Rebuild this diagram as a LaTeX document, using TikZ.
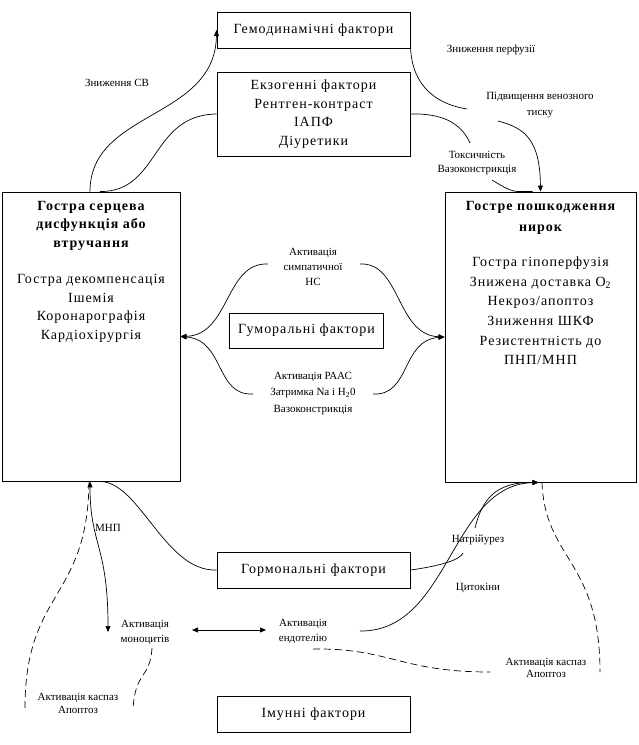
\documentclass[tikz,border=0pt]{standalone}
\usepackage{fontspec}
\setmainfont{Liberation Serif}
\newfontfamily\wide[LetterSpace=7]{Liberation Serif}
\usetikzlibrary{arrows.meta}
\begin{document}
\begin{tikzpicture}[x=1pt,y=-1pt,
  box/.style={draw, line width=0.9pt, inner sep=0pt},
  bigtxt/.style={font=\wide\fontsize{14}{18.7}\selectfont, align=center, inner sep=0pt},
  smalltxt/.style={font=\fontsize{11}{15}\selectfont, align=center, inner sep=0pt},
  conn/.style={line width=0.7pt},
  dsh/.style={line width=0.7pt, dash pattern=on 7pt off 4pt},
  arr/.style={-{Triangle[length=6pt,width=5pt]}},
  darr/.style={{Triangle[length=6pt,width=5pt]}-{Triangle[length=6pt,width=5pt]}}
]
\useasboundingbox (0,0) rectangle (638,745);

% boxes
\node[box, bigtxt, minimum width=193pt, minimum height=36pt] (hemo) at (313.5,30) {Гемодинамічні фактори};
\node[box, bigtxt, minimum width=193pt, minimum height=84pt] (exo) at (313.5,114) {Екзогенні фактори\\Рентген-контраст\\ІАПФ\\Діуретики};
\node[box, minimum width=178pt, minimum height=289pt] (leftbox) at (91,336.5) {};
\node[box, minimum width=191pt, minimum height=290pt] (rightbox) at (540.5,337) {};
\node[box, bigtxt, minimum width=154pt, minimum height=35pt] (humor) at (306.5,330.5) {Гуморальні фактори};
\node[box, bigtxt, minimum width=193pt, minimum height=36pt] (hormon) at (313.5,570) {Гормональні фактори};
\node[box, bigtxt, minimum width=193pt, minimum height=36pt] (immune) at (313.5,714) {Імунні фактори};

% texts inside big boxes
\node[bigtxt, font=\wide\bfseries\fontsize{14}{18.5}\selectfont] (lefttitle) at (91,225.5) {Гостра серцева\\дисфункція або\\втручання};
\node[bigtxt] (leftbody) at (91,308.5) {Гостра декомпенсація\\Ішемія\\Коронарографія\\Кардіохірургія};
\node[bigtxt, font=\wide\bfseries\fontsize{14}{21}\selectfont] (righttitle) at (540.5,217.5) {Гостре пошкодження\\нирок};
\node[bigtxt, font=\wide\fontsize{14}{19.6}\selectfont] (rightbody) at (540.5,311) {Гостра гіпоперфузія\\Знижена доставка O\textsubscript{2}\\Некроз/апоптоз\\Зниження ШКФ\\Резистентність до\\ПНП/МНП};

% small labels
\node[smalltxt] (sv) at (117,83) {Зниження СВ};
\node[smalltxt] (perf) at (491,50) {Зниження перфузії};
\node[smalltxt, font=\fontsize{11}{16}\selectfont] (ven) at (540,105) {Підвищення венозного\\тиску};
\node[smalltxt, font=\fontsize{11}{14}\selectfont] (tox) at (477,163) {Токсичність\\Вазоконстрикція};
\node[smalltxt] (symp) at (313,267) {Активація\\симпатичної\\НС};
\node[smalltxt, font=\fontsize{11}{16.5}\selectfont] (raas) at (313,393.5) {Активація РААС\\Затримка Na і H\textsubscript{2}0\\Вазоконстрикція};
\node[smalltxt] (mnp) at (108,528) {МНП};
\node[smalltxt] (mono) at (145,632) {Активація\\моноцитів};
\node[smalltxt] (endo) at (303,631) {Активація\\ендотелію};
\node[smalltxt, font=\fontsize{11}{13}\selectfont] (casp1) at (78,703.5) {Активація каспаз\\Апоптоз};
\node[smalltxt] (natr) at (478,540) {Натрійурез};
\node[smalltxt] (cyto) at (478,588) {Цитокіни};
\node[smalltxt, font=\fontsize{11}{12}\selectfont] (casp2) at (546,667.5) {Активація каспаз\\Апоптоз};

% free ends of broken connectors
\coordinate (hemoA) at (467,109);
\coordinate (venB) at (498,121);
\coordinate (exoA) at (470,143);
\coordinate (toxB) at (492,180);
\coordinate (sympL) at (268,264);
\coordinate (sympR) at (360,264);
\coordinate (raasL) at (253,394);
\coordinate (raasR) at (373,394);
\coordinate (monoTop) at (108,632);
\coordinate (monoL) at (192,630);
\coordinate (endoL) at (266,630);
\coordinate (endoR) at (360,631);
\coordinate (hormA) at (463,553);
\coordinate (natrB) at (475,528);
\coordinate (rdashEnd) at (600,672);
\coordinate (ldashEnd) at (25,708);
\coordinate (monoDashS) at (152,648);
\coordinate (monoDashE) at (133,710);
\coordinate (endoDashS) at (313,649);
\coordinate (endoDashE) at (490,672);

% top connectors
\draw[conn, arr] ([xshift=-1pt]leftbox.north) .. controls (90,110) and (215,120) .. (hemo.west);
\draw[conn] ([xshift=9pt]leftbox.north) .. controls (160,192) and (150,115) .. (exo.west);
\draw[conn] ([yshift=-12pt]hemo.east) .. controls (410,80) and (430,103) .. (hemoA);
\draw[conn, arr] (venB) .. controls (525,128) and (540,140) .. (rightbox.north);
\draw[conn] (exo.east) .. controls (445,113) and (462,125) .. (exoA);
\draw[conn] (toxB) .. controls (505,188) and (512,192) .. ([xshift=-20pt]rightbox.north) -- ([xshift=-8pt]rightbox.north);

% humoral connectors
\draw[conn, arr] (sympL) .. controls (225,262) and (230,335) .. (leftbox.east);
\draw[conn, arr] (raasL) .. controls (215,396) and (225,340) .. (leftbox.east);
\draw[conn, arr] (sympR) .. controls (401,262) and (396,335) .. (rightbox.west);
\draw[conn, arr] (raasR) .. controls (411,396) and (401,340) .. (rightbox.west);

% bottom connectors
\draw[conn] (hormon.west) .. controls (165,572) and (140,482) .. ([xshift=9pt]leftbox.south);
\draw[conn, darr] ([xshift=-1pt]leftbox.south) .. controls (90,545) and (108,545) .. (monoTop);
\draw[conn, darr] (monoL) -- (endoL);
\draw[conn, arr] (endoR) .. controls (450,632) and (450,485) .. ([xshift=-2pt]rightbox.south);
\draw[conn] (hormon.east) .. controls (440,566) and (460,560) .. (hormA);
\draw[conn, arr] (natrB) .. controls (482,500) and (495,482) .. ([xshift=-2pt]rightbox.south);

% dashed connectors
\draw[dsh] ([xshift=1.5pt]rightbox.south) .. controls (545,560) and (600,560) .. (rdashEnd);
\draw[dsh] (ldashEnd) .. controls (25,590) and (88,600) .. ([xshift=-2pt]leftbox.south);
\draw[dsh] (monoDashS) .. controls (150,680) and (135,670) .. (monoDashE);
\draw[dsh] (endoDashS) .. controls (390,648) and (400,672) .. (endoDashE);
\end{tikzpicture}
\end{document}
